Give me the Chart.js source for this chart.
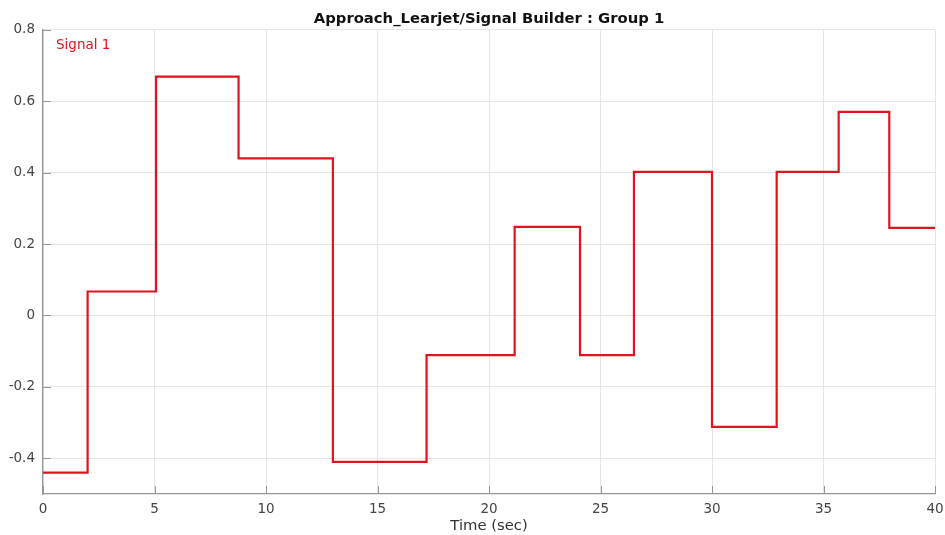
<!DOCTYPE html>
<html lang="en">
<head>
    <meta charset="UTF-8">
    <title>Signal Builder - Group 1</title>
    <script src="https://cdn.jsdelivr.net/npm/chart.js@4.4.1/dist/chart.umd.min.js"></script>
    <style>
        html, body { margin: 0; padding: 0; background: #fff; }
        #wrap { width: 945px; height: 535px; }
    </style>
</head>
<body>
    <div id="wrap"><canvas id="signalChart"></canvas></div>

<script>
    // step times (sec) and the signal level that holds from each time on
    var stepTimes  = [0, 2, 5.07, 8.77, 13, 17.2, 21.15, 24.08, 26.5, 30, 32.9, 35.68, 37.95, 40];
    var stepLevels = [-0.44, 0.067, 0.669, 0.44, -0.41, -0.111, 0.248, -0.111, 0.402, -0.312, 0.402, 0.57, 0.245, 0.245];
    var xTicks = [0, 5, 10, 15, 20, 25, 30, 35, 40];
    var yTicks = [-0.4, -0.2, 0, 0.2, 0.4, 0.6, 0.8];
    var seriesName = 'Signal 1';
    var chartTitle = 'Approach_Learjet/Signal Builder : Group 1';

    var fontFamily = '"DejaVu Sans", Verdana, sans-serif';
    var axisGray = '#969696';
    var gridGray = '#e6e6e6';
    var lineRed = '#e0141c';

    var points = stepTimes.map(function (t, i) { return { x: t, y: stepLevels[i] }; });

    // matlab style: ticks pointing into the plot, signal name in the corner
    var insideTicks = {
        id: 'insideTicks',
        afterDraw: function (chart) {
            var ctx = chart.ctx, a = chart.chartArea;
            var xs = chart.scales.x, ys = chart.scales.y;
            ctx.save();
            ctx.strokeStyle = axisGray;
            ctx.lineWidth = 1;
            ctx.beginPath();
            xTicks.forEach(function (v) {
                var px = Math.round(xs.getPixelForValue(v)) + 0.5;
                ctx.moveTo(px, a.bottom);
                ctx.lineTo(px, a.bottom - 8);
            });
            yTicks.forEach(function (v) {
                var py = Math.round(ys.getPixelForValue(v)) + 0.5;
                ctx.moveTo(a.left, py);
                ctx.lineTo(a.left + 8, py);
            });
            ctx.stroke();

            ctx.fillStyle = lineRed;
            ctx.font = '13.5px ' + fontFamily;
            ctx.textBaseline = 'middle';
            ctx.fillText(seriesName, a.left + 13, a.top + 16);
            ctx.restore();
        }
    };

    new Chart(document.getElementById('signalChart'), {
        type: 'line',
        data: {
            datasets: [{
                label: seriesName,
                data: points,
                stepped: 'before',
                borderColor: lineRed,
                borderWidth: 2.2,
                pointRadius: 0,
                fill: false
            }]
        },
        options: {
            responsive: true,
            maintainAspectRatio: false,
            animation: false,
            layout: { padding: { left: 0, right: 10, top: 0, bottom: 0 } },
            plugins: {
                legend: { display: false },
                tooltip: { enabled: false },
                title: {
                    display: true,
                    text: chartTitle,
                    fullSize: false,
                    color: '#111',
                    font: { family: fontFamily, size: 14.8, weight: 'bold' },
                    padding: { top: 10, bottom: 2 }
                }
            },
            scales: {
                x: {
                    type: 'linear',
                    min: 0,
                    max: 40,
                    afterBuildTicks: function (s) { s.ticks = xTicks.map(function (v) { return { value: v }; }); },
                    afterFit: function (s) {
                        s.height = 41;
                        // let the end labels hang past the plot edge
                        s.paddingLeft = 0;
                        s.paddingRight = 0;
                    },
                    grid: { color: gridGray, drawTicks: false },
                    border: { color: axisGray, width: 1.3 },
                    ticks: {
                        padding: 7,
                        color: '#444',
                        maxRotation: 0,
                        font: { family: fontFamily, size: 13.5 }
                    },
                    title: {
                        display: true,
                        text: 'Time (sec)',
                        color: '#333',
                        padding: { top: 0, bottom: 0 },
                        font: { family: fontFamily, size: 14.8 }
                    }
                },
                y: {
                    min: -0.5,
                    max: 0.8,
                    afterBuildTicks: function (s) { s.ticks = yTicks.map(function (v) { return { value: v }; }); },
                    afterFit: function (s) { s.width = 43; },
                    grid: { color: gridGray, drawTicks: false },
                    border: { color: axisGray, width: 1.3 },
                    ticks: {
                        padding: 8,
                        color: '#444',
                        font: { family: fontFamily, size: 13.5 },
                        callback: function (v) { return String(Math.round(v * 10) / 10); }
                    }
                }
            }
        },
        plugins: [insideTicks]
    });
</script>
</body>
</html>
